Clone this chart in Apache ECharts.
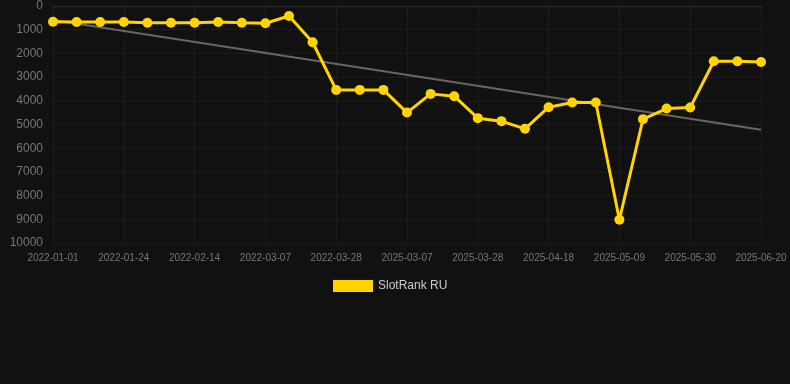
<!DOCTYPE html>
<html>
<head>
<meta charset="utf-8">
<script src="https://cdn.jsdelivr.net/npm/echarts@6/dist/echarts.min.js"></script>
<style>
html,body{margin:0;padding:0;background:#111111;}
#chart{width:790px;height:384px;}
</style>
</head>
<body>
<div id="chart"></div>
<script>
const categories = [
  "2022-01-01","2022-01-08","2022-01-16","2022-01-24","2022-01-31","2022-02-07","2022-02-14",
  "2022-02-21","2022-02-28","2022-03-07","2022-03-14","2022-03-21","2022-03-28",
  "2025-02-21","2025-02-28","2025-03-07","2025-03-14","2025-03-21","2025-03-28",
  "2025-04-04","2025-04-11","2025-04-18","2025-04-25","2025-05-02","2025-05-09",
  "2025-05-16","2025-05-23","2025-05-30","2025-06-06","2025-06-13","2025-06-20"
];
const slotRankRU = [
  662, 674, 674, 674, 704, 704, 704, 674, 704, 729, 421, 1530, 3540,
  3540, 3540, 4496, 3708, 3805, 4732, 4859, 5183, 4269, 4075, 4075, 9018,
  4774, 4328, 4286, 2330, 2330, 2360
];
const trendEnds = [590, 5225];
const yTicks = [0, 10000, 1000];

const chart = echarts.init(document.getElementById('chart'));
chart.setOption({
  backgroundColor: '#111111',
  animation: false,
  grid: {left: 53, right: 29, top: 6, bottom: 141, containLabel: false},
  legend: {
    data: [{name: 'SlotRank RU', icon: 'rect'}],
    top: 275,
    left: 328,
    itemWidth: 40,
    itemHeight: 12,
    itemGap: 10,
    textStyle: {color: '#cccccc', fontSize: 12, fontFamily: 'Liberation Sans'}
  },
  xAxis: {
    type: 'category',
    data: categories,
    boundaryGap: false,
    axisLine: {lineStyle: {color: '#2a2a2a'}},
    axisTick: {show: true, interval: 2, lineStyle: {color: '#2a2a2a'}},
    axisLabel: {interval: 2, color: '#777777', fontSize: 10, fontFamily: 'Liberation Sans', margin: 10},
    splitLine: {show: true, interval: 2, lineStyle: {color: '#1c1c1c'}}
  },
  yAxis: {
    type: 'value',
    inverse: true,
    min: yTicks[0],
    max: yTicks[1],
    interval: yTicks[2],
    axisLine: {show: false},
    axisTick: {show: false},
    axisLabel: {color: '#777777', fontSize: 12, fontFamily: 'Liberation Sans', margin: 10,
      formatter: function (v) { return String(v); }},
    splitLine: {lineStyle: {color: '#1c1c1c'}}
  },
  series: [
    {
      name: 'SlotRank RU',
      type: 'line',
      data: slotRankRU,
      color: '#FFD400',
      lineStyle: {width: 3, color: '#FFD400'},
      symbol: 'circle',
      symbolSize: 10,
      itemStyle: {color: '#FFD400'},
      z: 3
    },
    {
      name: 'Trend',
      type: 'line',
      data: [[categories[0], trendEnds[0]], [categories[categories.length - 1], trendEnds[1]]],
      symbol: 'none',
      lineStyle: {width: 2, color: '#666666'},
      z: 2
    }
  ]
});
</script>
</body>
</html>
